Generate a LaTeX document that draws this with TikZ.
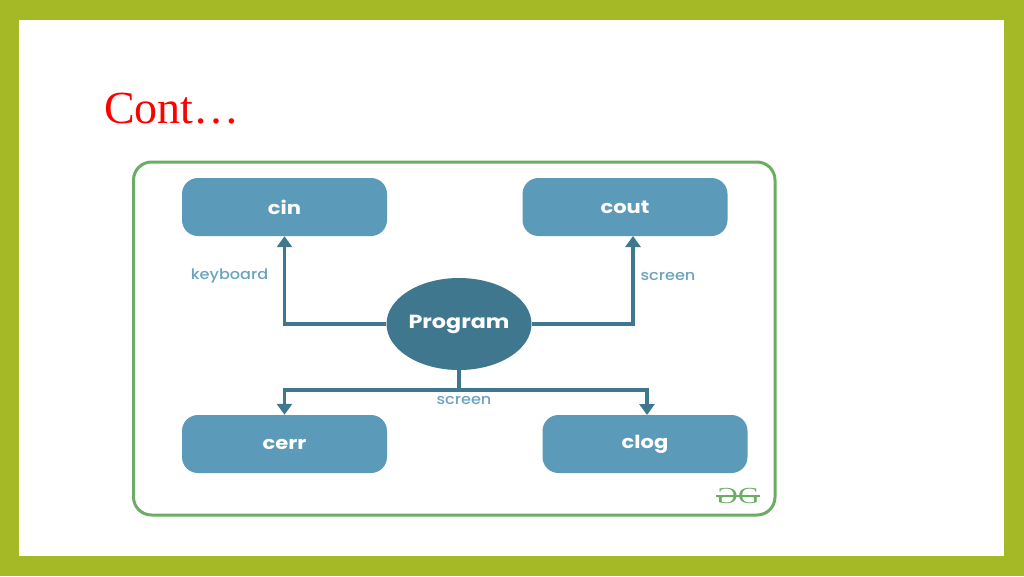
\documentclass[tikz,border=0pt]{standalone}
\usepackage{fontspec}
\setmainfont{Liberation Serif}
\newfontfamily\popbig[FakeStretch=1.17]{Poppins}
\newfontfamily\popmid[FakeStretch=1.11]{Poppins Medium}
\newfontfamily\gfont[FakeStretch=1.3]{Liberation Serif}
\usetikzlibrary{arrows.meta,shapes.geometric,calc}
\definecolor{framegreen}{HTML}{A5B825}
\definecolor{panelgreen}{HTML}{6BAD63}
\definecolor{boxblue}{HTML}{5C9ABA}
\definecolor{darkblue}{HTML}{3F778F}
\definecolor{labelblue}{HTML}{6BA3BF}
\tikzset{
  x=1pt,y=-1pt,
  stream/.style={rectangle,rounded corners=16pt,fill=boxblue,text=white,minimum width=205pt,minimum height=58pt,inner sep=0pt,font=\popbig\fontsize{18}{20}\selectfont\bfseries},
  prog/.style={ellipse,fill=darkblue,text=white,minimum width=145pt,minimum height=92pt,inner sep=0pt,font=\popbig\fontsize{19}{21}\selectfont\bfseries},
  link/.style={draw=darkblue,line width=3.6pt},
  linkarrow/.style={link,-{Triangle[width=15pt,length=11pt]}},
  lbl/.style={text=labelblue,inner sep=0pt,font=\popmid\fontsize{14.5}{16}\selectfont},
}
\begin{document}
\begin{tikzpicture}
\useasboundingbox (0,0) rectangle (1024,576);
\fill[framegreen] (0,0) rectangle (1024,576);
\fill[white] (19,20) rectangle (1004,556);
\node[anchor=base west,inner sep=0pt,text=red,font=\fontsize{46}{50}\selectfont] (title) at (104,123) {Cont…};
\draw[panelgreen,line width=3pt,rounded corners=18pt] (133.5,162) rectangle (775,515);
\node[stream] (cin) at (284.5,207) {cin};
\node[stream] (cout) at (625,207) {cout};
\node[stream] (cerr) at (284.5,444) {cerr};
\node[stream] (clog) at (645,444) {clog};
\node[prog] (program) at (459,324) {Program};
\coordinate (couttip) at (633,236);
\coordinate (logtip) at (647,415);
\coordinate (junction) at (459,390);
\draw[linkarrow] (program.west) -| (cin.south);
\draw[linkarrow] (program.east) -| (couttip);
\draw[link] (program.south) -- (junction);
\draw[linkarrow] (junction) -| (cerr.north);
\draw[linkarrow] (junction) -| (logtip);
\node[lbl] (kb) at (229.5,276) {keyboard};
\node[lbl] (s1) at (668,276) {screen};
\node[lbl] (s2) at (464,400) {screen};
\node[inner sep=0pt,text=panelgreen,font=\gfont\fontsize{23}{25}\selectfont] (gl) at (727,496) {\scalebox{-1}[1]{G}};
\node[inner sep=0pt,text=panelgreen,font=\gfont\fontsize{23}{25}\selectfont] (gr) at (749,496) {G};
\draw[panelgreen,line width=1.2pt] (gl.west) -- (gr.east);
\end{tikzpicture}
\end{document}
